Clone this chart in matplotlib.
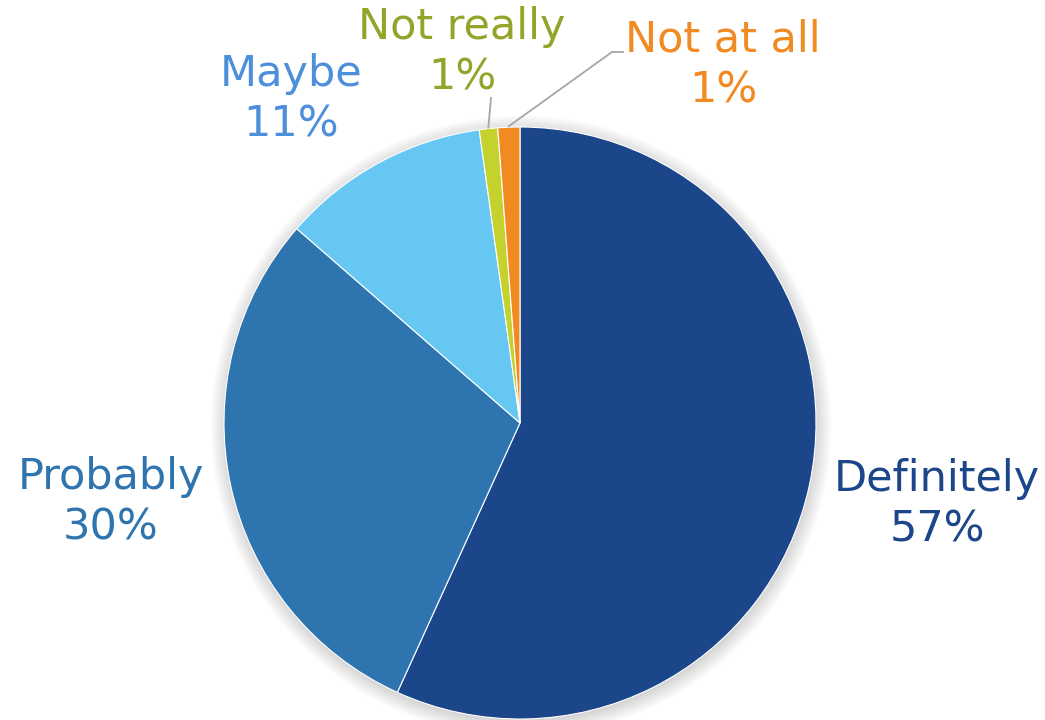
import numpy as np
import matplotlib.pyplot as plt
from matplotlib.patches import Circle

categories = ['Definitely', 'Probably', 'Maybe', 'Not really', 'Not at all']
shares = [56.8, 29.6, 11.4, 1.0, 1.2]
slice_colors = ['#1b468a', '#2e75b0', '#66c8f2', '#c5d22e', '#f28a22']
label_colors = ['#1b468a', '#2e75b0', '#4e8fdb', '#94a42a', '#f28a22']

W, H = 1045, 720
fig = plt.figure(figsize=(W / 100, H / 100), dpi=100)
ax = fig.add_axes([0, 0, 1, 1])
ax.set_xlim(0, W)
ax.set_ylim(0, H)
ax.axis('off')

cx, cy, r = 520, H - 423, 296

# soft grey halo under the pie, a little heavier at the bottom
for i in range(22):
    ax.add_patch(Circle((cx + 1, cy - 3), r - 2 + i * 0.8, color='black',
                        alpha=0.009, lw=0, zorder=0))

wedges, _ = ax.pie(shares, startangle=90, counterclock=False,
                   colors=slice_colors, center=(cx, cy), radius=r,
                   frame=False,
                   wedgeprops=dict(edgecolor='white', linewidth=0.8))
for w in wedges:
    w.set_zorder(2)
ax.set_xlim(0, W)
ax.set_ylim(0, H)
ax.set_aspect('equal')

# label block centres (pixels from top-left)
label_pos = [(937, 504), (111, 502), (291, 99), (462, 52), (723, 65)]
font = dict(family='DejaVu Sans', fontsize=31, ha='center', va='center',
            multialignment='center', linespacing=1.27)
for name, val, col, (lx, ly) in zip(categories, shares, label_colors, label_pos):
    ax.text(lx, H - ly, f'{name}\n{val:.0f}%', color=col, **font)

# leader lines for the two thin slices
def rim_point(w, extra=1):
    ang = np.deg2rad((w.theta1 + w.theta2) / 2)
    return cx + (r + extra) * np.cos(ang), cy + (r + extra) * np.sin(ang)

x0, y0 = rim_point(wedges[3])
ax.plot([x0, 491], [y0, H - 98], color='#a6a6a6', lw=1.3, zorder=3)
x0, y0 = rim_point(wedges[4])
ax.plot([x0, 612, 623], [y0, H - 52, H - 52], color='#a6a6a6', lw=1.3, zorder=3)

fig.savefig('out.png', dpi=100, facecolor='white')
